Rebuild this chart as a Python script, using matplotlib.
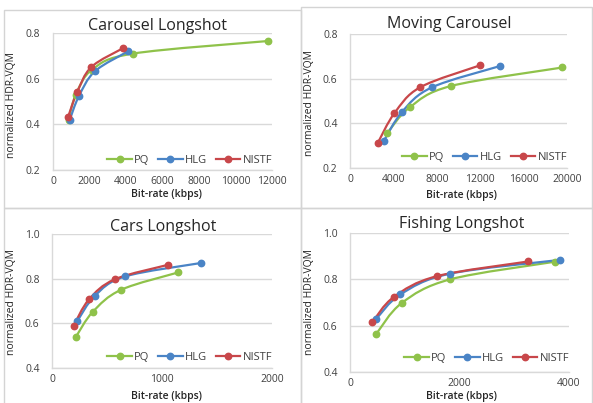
import matplotlib
matplotlib.use("Agg")
import matplotlib.pyplot as plt
from matplotlib.path import Path
from matplotlib.patches import PathPatch, Rectangle
from matplotlib.lines import Line2D
import numpy as np

plt.rcParams['font.family'] = ['Open Sans', 'DejaVu Sans']

series_names = ["PQ", "HLG", "NISTF"]
colors = {"PQ": "#8fc24a", "HLG": "#4a84c6", "NISTF": "#c8474a"}

titles = ["Carousel Longshot", "Moving Carousel", "Cars Longshot", "Fishing Longshot"]

# Carousel Longshot
cl_pq_x = [850, 1250, 2150, 4400, 11800]
cl_pq_y = [0.42, 0.53, 0.64, 0.71, 0.765]
cl_hlg_x = [920, 1410, 2290, 4120]
cl_hlg_y = [0.42, 0.522, 0.632, 0.72]
cl_nistf_x = [820, 1320, 2100, 3850]
cl_nistf_y = [0.431, 0.54, 0.651, 0.734]

# Moving Carousel
mc_pq_x = [3410, 5490, 9300, 19570]
mc_pq_y = [0.355, 0.471, 0.567, 0.65]
mc_hlg_x = [3100, 4810, 7540, 13860]
mc_hlg_y = [0.32, 0.452, 0.561, 0.657]
mc_nistf_x = [2570, 4090, 6450, 11940]
mc_nistf_y = [0.313, 0.445, 0.561, 0.659]

# Cars Longshot
ca_pq_x = [218, 370, 627, 1148]
ca_pq_y = [0.54, 0.651, 0.75, 0.828]
ca_hlg_x = [230, 391, 664, 1352]
ca_hlg_y = [0.61, 0.724, 0.81, 0.87]
ca_nistf_x = [197, 336, 570, 1055]
ca_nistf_y = [0.59, 0.707, 0.797, 0.862]

# Fishing Longshot
fl_pq_x = [476, 946, 1831, 3741]
fl_pq_y = [0.563, 0.698, 0.80, 0.876]
fl_hlg_x = [476, 922, 1819, 3843]
fl_hlg_y = [0.628, 0.735, 0.824, 0.884]
fl_nistf_x = [404, 801, 1584, 3253]
fl_nistf_y = [0.614, 0.724, 0.8135, 0.877]

panel_data = [
    {"PQ": (cl_pq_x, cl_pq_y), "HLG": (cl_hlg_x, cl_hlg_y), "NISTF": (cl_nistf_x, cl_nistf_y)},
    {"PQ": (mc_pq_x, mc_pq_y), "HLG": (mc_hlg_x, mc_hlg_y), "NISTF": (mc_nistf_x, mc_nistf_y)},
    {"PQ": (ca_pq_x, ca_pq_y), "HLG": (ca_hlg_x, ca_hlg_y), "NISTF": (ca_nistf_x, ca_nistf_y)},
    {"PQ": (fl_pq_x, fl_pq_y), "HLG": (fl_hlg_x, fl_hlg_y), "NISTF": (fl_nistf_x, fl_nistf_y)},
]

x_ticks = [
    [0, 2000, 4000, 6000, 8000, 10000, 12000],
    [0, 4000, 8000, 12000, 16000, 20000],
    [0, 1000, 2000],
    [0, 2000, 4000],
]
y_ticks = [
    [0.2, 0.4, 0.6, 0.8],
    [0.2, 0.4, 0.6, 0.8],
    [0.4, 0.6, 0.8, 1.0],
    [0.4, 0.6, 0.8, 1.0],
]
y_tick_labels = [
    ["0.2", "0.4", "0.6", "0.8"],
    ["0.2", "0.4", "0.6", "0.8"],
    ["0.4", "0.6", "0.8", "1.0"],
    ["0.4", "0.6", "0.8", "1.0"],
]

W, H = 593, 403
fig = plt.figure(figsize=(W / 100, H / 100), dpi=100)
fig.patch.set_facecolor("white")


def px_rect(l, r, t, b):
    return [l / W, 1 - b / H, (r - l) / W, (b - t) / H]


# panel frames (pixels: left, right, top, bottom)
frames = [(4, 301, 10, 208), (301, 592, 7, 208), (4, 301, 208, 404), (301, 592, 208, 404)]
for (l, r, t, b) in frames:
    fig.patches.append(Rectangle((l / W, 1 - b / H), (r - l) / W, (b - t) / H,
                                 transform=fig.transFigure, fill=False,
                                 edgecolor="#d4d4d4", linewidth=1.0))

axes_px = [(53, 272, 33, 170), (350, 567, 34, 168), (52, 272, 234, 368), (350, 569, 233, 372)]
title_pos = [(158, 26), (449, 24), (163, 227), (462, 224)]
ylabel_pos = [(12, 105), (310, 103), (12, 302), (310, 302)]
xlabel_pos = [(166, 195), (461, 196), (166, 396), (461, 396)]
legend_y = [0.066, 0.075, 0.075, 0.094]


def smooth_path(xs, ys):
    pts = np.column_stack([xs, ys]).astype(float)
    n = len(pts)
    verts = [pts[0]]
    codes = [Path.MOVETO]
    for i in range(n - 1):
        p0 = pts[i - 1] if i > 0 else pts[i]
        p1 = pts[i]
        p2 = pts[i + 1]
        p3 = pts[i + 2] if i + 2 < n else pts[i + 1]
        c1 = p1 + (p2 - p0) / 6.0
        c2 = p2 - (p3 - p1) / 6.0
        verts += [c1, c2, p2]
        codes += [Path.CURVE4] * 3
    return Path(verts, codes)


for k in range(4):
    ax = fig.add_axes(px_rect(*axes_px[k]))
    xt = x_ticks[k]
    yt = y_ticks[k]
    ax.set_xlim(xt[0], xt[-1])
    ax.set_ylim(yt[0], yt[-1])
    ax.set_xticks(xt)
    ax.set_xticklabels([str(v) for v in xt])
    ax.set_yticks(yt)
    ax.set_yticklabels(y_tick_labels[k])
    ax.tick_params(axis="both", length=0, labelsize=7.5, colors="#404040")
    ax.tick_params(axis="x", pad=4)
    ax.tick_params(axis="y", pad=9)
    ax.grid(axis="y", color="#d9d9d9", linewidth=1.0)
    ax.set_axisbelow(True)
    for s in ["top", "right"]:
        ax.spines[s].set_visible(False)
    ax.spines["left"].set_color("#d9d9d9")
    ax.spines["bottom"].set_color("#d9d9d9")
    ax.spines["left"].set_linewidth(1.0)
    ax.spines["bottom"].set_linewidth(1.0)

    handles = []
    for name in series_names:
        xs, ys = panel_data[k][name]
        c = colors[name]
        patch = PathPatch(smooth_path(xs, ys), fill=False, edgecolor=c, linewidth=1.6,
                          capstyle="round", joinstyle="round", zorder=3)
        ax.add_patch(patch)
        ax.plot(xs, ys, linestyle="none", marker="o", markersize=4.6, color=c, zorder=4,
                clip_on=False)
        handles.append(Line2D([], [], color=c, linewidth=1.6, marker="o", markersize=4.6, label=name))

    ax.legend(handles=handles, loc="lower right", bbox_to_anchor=(1.02, legend_y[k] - 0.07),
              ncol=3, frameon=False, fontsize=8, handlelength=2.2, handletextpad=0.2,
              columnspacing=0.8, borderaxespad=0.0, labelcolor="#404040")

    tx, ty = title_pos[k]
    fig.text(tx / W, 1 - ty / H, titles[k], ha="center", va="center", fontsize=11.5,
             color="#262626")
    lx, ly = ylabel_pos[k]
    fig.text(lx / W, 1 - ly / H, "normalized HDR-VQM", rotation=90, ha="center", va="center",
             fontsize=7.5, color="#262626")
    bx, by = xlabel_pos[k]
    fig.text(bx / W, 1 - by / H, "Bit-rate (kbps)", ha="center", va="center", fontsize=7.5,
             color="#262626", fontweight="semibold")

fig.savefig("out.png", dpi=100)
